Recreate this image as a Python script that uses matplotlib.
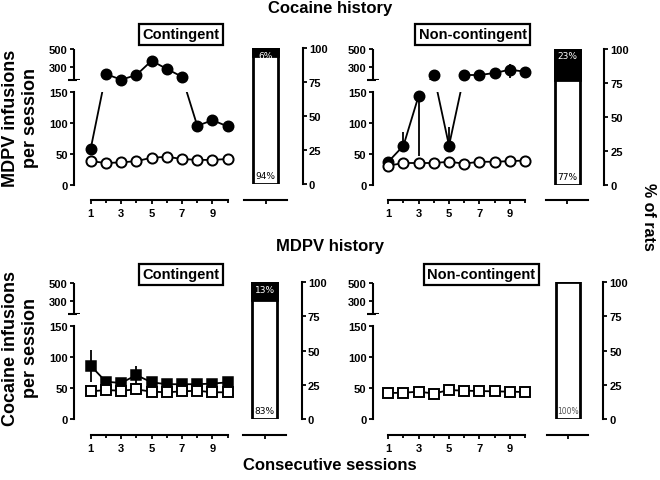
import matplotlib
matplotlib.use("Agg")
import matplotlib.pyplot as plt
import numpy as np
from matplotlib.ticker import NullLocator

plt.rcParams['font.family'] = ['Liberation Sans', 'DejaVu Sans']
plt.rcParams['font.weight'] = 'bold'

# ---- data ----
sessions = np.arange(1, 11)

# Cocaine history, contingent (MDPV infusions)
coc_cont_filled = [58, 223, 160, 212, 370, 279, 193, 95, 104, 94]
coc_cont_open = [38, 35, 36, 38, 43.5, 45, 41.5, 40, 40, 41.5]

# Cocaine history, non-contingent
coc_nonc_filled = [37, 63, 143.5, 212, 63, 212, 212, 234, 271, 249]
coc_nonc_err_lo = [0, 0, 97, 30, 0, 0, 0, 45, 90, 70]
coc_nonc_err_hi = [0, 22, 0, 50, 30, 0, 0, 55, 63, 55]
coc_nonc_open = [30.6, 35, 35, 35, 37, 34, 37, 37, 38, 39]

# MDPV history, contingent (cocaine infusions)
mdpv_cont_filled = [85.7, 60, 58, 70.7, 59, 56, 56, 56, 57, 59]
mdpv_cont_err = [26, 0, 0, 14, 0, 0, 0, 0, 0, 0]
mdpv_cont_open = [44.5, 46.6, 45.5, 47.7, 44, 43, 44.5, 45.5, 43, 43]

# MDPV history, non-contingent
mdpv_nonc_open = [41.8, 42.3, 44, 41, 46.6, 45.6, 45, 44.5, 44, 43.4]

# % of rats (escalated / not escalated)
pct_black = [6, 23, 13, 0]
pct_white = [94, 77, 83, 100]

y_ticks = [0, 50, 100, 150, 300, 500]
pct_ticks = [0, 25, 50, 75, 100]

W, H = 660, 481
BRK = [0, 150, 160, 500]
UNITS = [0, 93, 105, 135.7]


def fwd(v):
    v = np.asarray(v, dtype=float)
    out = np.interp(v, BRK, UNITS)
    out = np.where(v > 500, UNITS[-1] + (v - 500) * 30.7 / 340, out)
    return np.where(v < 0, v * 93 / 150, out)


def inv(u):
    u = np.asarray(u, dtype=float)
    out = np.interp(u, UNITS, BRK)
    out = np.where(u > UNITS[-1], 500 + (u - UNITS[-1]) * 340 / 30.7, out)
    return np.where(u < 0, u * 150 / 93, out)


def px_axes(fig, x0, y0, x1, y1):
    return fig.add_axes([x0 / W, 1 - y1 / H, (x1 - x0) / W, (y1 - y0) / H])


def ftext(fig, x, y, s, **kw):
    fig.text(x / W, 1 - y / H, s, **kw)


def session_panel(fig, x0, x1, y0, y1, p1, p10, outward, marker,
                  filled=None, lo=None, hi=None, opened=None):
    ax = px_axes(fig, x0, y0, x1, y1)
    ax.set_yscale('function', functions=(fwd, inv))
    ax.set_ylim(0, 500)
    scale = (p10 - p1) / 9
    ax.set_xlim(1 - (p1 - x0) / scale, 10 + (x1 - p10) / scale)
    ax.patch.set_alpha(0)

    if filled is not None:
        ax.plot(sessions, filled, color='k', lw=1.3, zorder=2)
        if lo is not None:
            ax.errorbar(sessions, filled, yerr=[lo, hi], fmt='none', ecolor='k',
                        elinewidth=1.3, capsize=0, zorder=2)
    ax.plot(sessions, opened, color='k', lw=1.3, zorder=2)
    # hide the axis-break gap
    ax.axhspan(150, 160, xmin=0.02, xmax=1, color='white', lw=0, zorder=3)
    if filled is not None:
        ax.plot(sessions, filled, ls='none', marker=marker, ms=7.5, mfc='k',
                mec='k', mew=1.1, zorder=4)
    ax.plot(sessions, opened, ls='none', marker=marker, ms=7.3, mfc='white',
            mec='k', mew=1.4, zorder=5)

    for s in ['top', 'right']:
        ax.spines[s].set_visible(False)
    ax.spines['left'].set_bounds(0, 150)
    ax.spines['left'].set_linewidth(1.5)
    ax.spines['bottom'].set_position(('outward', outward * 0.72))
    ax.spines['bottom'].set_bounds(1, 10)
    ax.spines['bottom'].set_linewidth(1.5)
    # upper segment of the broken y axis
    ax.plot([0, 0], [160, 500], transform=ax.get_yaxis_transform(), color='k',
            lw=1.5, clip_on=False, solid_capstyle='butt')
    ax.plot([0], [160], transform=ax.get_yaxis_transform(), color='k',
            marker='_', ms=8, mew=1.5, clip_on=False)

    ax.set_yticks(y_ticks)
    ax.set_yticklabels([str(t) for t in y_ticks])
    ax.yaxis.set_minor_locator(NullLocator())
    ax.set_xticks([1, 3, 5, 7, 9])
    ax.set_xticks([2, 4, 6, 8, 10], minor=True)
    ax.tick_params(axis='y', direction='out', length=3, width=1.3, pad=1.5,
                   labelsize=8)
    ax.tick_params(axis='x', which='major', direction='out', length=3,
                   width=1.3, pad=2.5, labelsize=8)
    ax.tick_params(axis='x', which='minor', direction='out', length=2.2,
                   width=1.3)
    return ax


def pct_panel(fig, x0, x1, y0, y1, outward, black, white):
    ax = px_axes(fig, x0, y0, x1, y1)
    ax.set_xlim(-1, 1.7)
    ax.set_ylim(0, 100)
    ax.patch.set_alpha(0)
    ax.bar(0, 100, width=1.15, color='white', edgecolor='k', lw=2, zorder=2)
    if black > 0:
        ax.bar(0, black, bottom=100 - black, width=1.15, color='k',
               edgecolor='k', lw=2, zorder=3)
        ax.text(0, 95, f'{black}%', color='white', ha='center', va='center',
                fontsize=6.5, fontweight='normal', family='DejaVu Sans', zorder=4)
    if white < 100:
        ax.text(0, 6.5, f'{white}%', color='k', ha='center', va='center',
                fontsize=6.5, fontweight='normal', family='DejaVu Sans', zorder=4)
    else:
        ax.text(0, 6.5, f'{white}%', color='#555555', ha='center', va='center',
                fontsize=5.5, fontweight='normal', family='DejaVu Sans', zorder=4)

    for s in ['top', 'left']:
        ax.spines[s].set_visible(False)
    ax.spines['right'].set_linewidth(1.5)
    ax.spines['bottom'].set_position(('outward', outward * 0.72))
    ax.spines['bottom'].set_bounds(-1, 0.96)
    ax.spines['bottom'].set_linewidth(1.5)
    ax.yaxis.tick_right()
    ax.set_yticks(pct_ticks)
    ax.set_yticklabels([str(t) for t in pct_ticks])
    ax.set_xticks([0])
    ax.set_xticklabels([])
    ax.tick_params(axis='y', direction='out', length=3, width=1.3, pad=1.5,
                   labelsize=8)
    ax.tick_params(axis='x', direction='out', length=3, width=1.3)
    return ax


def label_box(fig, x, y, s):
    ftext(fig, x, y, s, ha='center', va='center', fontsize=10.5, fontweight='bold',
          bbox=dict(boxstyle='square,pad=0.25', fc='white', ec='k', lw=1.6))


fig = plt.figure(figsize=(6.6, 4.81), dpi=100)

# top row: cocaine history
session_panel(fig, 74, 240, 50, 185.7, 90.7, 227.7, 15.3, 'o',
              coc_cont_filled, None, None, coc_cont_open)
pct_panel(fig, 244, 302.7, 49.3, 185.3, 15.7, pct_black[0], pct_white[0])
session_panel(fig, 372.7, 538, 50, 185.7, 388.3, 524.9, 15.3, 'o',
              coc_nonc_filled, coc_nonc_err_lo, coc_nonc_err_hi, coc_nonc_open)
pct_panel(fig, 546, 604, 50, 186, 15, pct_black[1], pct_white[1])

# bottom row: MDPV history
session_panel(fig, 74, 240, 284, 420, 90.7, 227.7, 16, 's',
              mdpv_cont_filled, mdpv_cont_err, mdpv_cont_err, mdpv_cont_open)
pct_panel(fig, 243.3, 301.7, 283.3, 420, 15.5, pct_black[2], pct_white[2])
session_panel(fig, 372.7, 538, 284, 420, 388.3, 524.9, 16, 's',
              None, None, None, mdpv_nonc_open)
pct_panel(fig, 546.7, 603.3, 283.3, 420, 15.5, pct_black[3], pct_white[3])

# titles and labels
ftext(fig, 330, 9, 'Cocaine history', ha='center', va='center', fontsize=12)
ftext(fig, 330, 247, 'MDPV history', ha='center', va='center', fontsize=12)
ftext(fig, 330, 466, 'Consecutive sessions', ha='center', va='center', fontsize=12)
ftext(fig, 20.5, 118, 'MDPV infusions\nper session', ha='center', va='center',
      rotation=90, fontsize=13, linespacing=1.2)
ftext(fig, 20.5, 348, 'Cocaine infusions\nper session', ha='center', va='center',
      rotation=90, fontsize=13, linespacing=1.2)
ftext(fig, 649, 217, '% of rats', ha='center', va='center', rotation=270,
      fontsize=11.5)

label_box(fig, 181, 35.5, 'Contingent')
label_box(fig, 472.7, 35.5, 'Non-contingent')
label_box(fig, 181, 275.5, 'Contingent')
label_box(fig, 481.3, 275.5, 'Non-contingent')

fig.savefig('out.png', dpi=100)
